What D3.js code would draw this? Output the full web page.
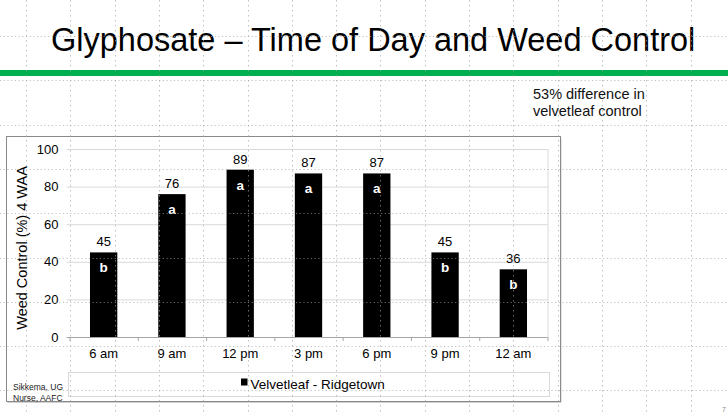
<!DOCTYPE html>
<html>
<head>
<meta charset="utf-8">
<script src="https://cdn.jsdelivr.net/npm/d3@7"></script>
<style>
  html, body { margin: 0; padding: 0; background: #fff; }
  svg { display: block; font-family: "Liberation Sans", Arial, sans-serif; }
</style>
</head>
<body>
<svg id="slide" width="728" height="414"></svg>
<script>
// chart values
const categories = ['6 am', '9 am', '12 pm', '3 pm', '6 pm', '9 pm', '12 am'];
const control = [45, 76, 89, 87, 87, 45, 36];
const letters = ['b', 'a', 'a', 'a', 'a', 'b', 'b'];
const yTicks = [0, 20, 40, 60, 80, 100];
const seriesName = 'Velvetleaf - Ridgetown';

const svg = d3.select('#slide');

const plot = { left: 69.5, right: 547.5, top: 149, bottom: 337 };

const x = d3.scaleBand().domain(categories).range([plot.left, plot.right]);
const y = d3.scaleLinear().domain([0, 100]).range([plot.bottom, plot.top]);

// title + green rule
svg.append('text')
    .attr('x', 51).attr('y', 50.5)
    .attr('font-size', 32.5)
    .text('Glyphosate \u2013 Time of Day and Weed Control');

svg.append('rect')
    .attr('x', 0).attr('y', 70).attr('width', 728).attr('height', 6)
    .attr('fill', '#00b050');

// note at top right
const note = svg.append('text').attr('font-size', 14.5).attr('fill', '#111');
note.append('tspan').attr('x', 533).attr('y', 98.5).text('53% difference in');
note.append('tspan').attr('x', 533).attr('y', 115.5).text('velvetleaf control');

// chart frame with a faint shadow
svg.append('rect')
    .attr('x', 7.5).attr('y', 138).attr('width', 554).attr('height', 265)
    .attr('fill', '#d0d0d0');
svg.append('rect')
    .attr('x', 6.5).attr('y', 136.5).attr('width', 554).attr('height', 265)
    .attr('fill', '#fff').attr('stroke', '#8a8a8a').attr('stroke-width', 1);

// gridlines
svg.append('g').selectAll('line')
    .data(yTicks)
    .join('line')
    .attr('x1', plot.left - 3).attr('x2', plot.right)
    .attr('y1', d => y(d) + 0.5).attr('y2', d => y(d) + 0.5)
    .attr('stroke', d => d === 0 ? '#a6a6a6' : '#d9d9d9');

svg.append('line')
    .attr('x1', plot.right + 0.5).attr('x2', plot.right + 0.5)
    .attr('y1', plot.top).attr('y2', plot.bottom)
    .attr('stroke', '#d9d9d9');

// category tick marks under the axis
svg.append('g').selectAll('line')
    .data(categories.concat(['end']))
    .join('line')
    .attr('x1', (d, i) => plot.left + i * x.step() + 0.5)
    .attr('x2', (d, i) => plot.left + i * x.step() + 0.5)
    .attr('y1', plot.bottom).attr('y2', plot.bottom + 4)
    .attr('stroke', '#a6a6a6');

// bars
const barW = x.bandwidth() * 0.4;
const bars = svg.append('g');
bars.selectAll('rect')
    .data(control)
    .join('rect')
    .attr('x', (d, i) => x(categories[i]) + (x.bandwidth() - barW) / 2)
    .attr('y', d => y(d))
    .attr('width', barW)
    .attr('height', d => y(0) - y(d))
    .attr('fill', '#000');

bars.selectAll('text.value')
    .data(control)
    .join('text')
    .attr('class', 'value')
    .attr('x', (d, i) => x(categories[i]) + x.bandwidth() / 2)
    .attr('y', d => y(d) - 6)
    .attr('text-anchor', 'middle')
    .attr('font-size', 13)
    .text(d => d);

bars.selectAll('text.letter')
    .data(letters)
    .join('text')
    .attr('class', 'letter')
    .attr('x', (d, i) => x(categories[i]) + x.bandwidth() / 2)
    .attr('y', (d, i) => y(control[i]) + 20)
    .attr('text-anchor', 'middle')
    .attr('font-size', 13.5)
    .attr('font-weight', 'bold')
    .attr('fill', '#fff')
    .text(d => d);

// axes labels
svg.append('g').selectAll('text')
    .data(yTicks)
    .join('text')
    .attr('x', 58.5)
    .attr('y', d => y(d) + 4.5)
    .attr('text-anchor', 'end')
    .attr('font-size', 13)
    .text(d => d);

svg.append('g').selectAll('text')
    .data(categories)
    .join('text')
    .attr('x', d => x(d) + x.bandwidth() / 2)
    .attr('y', 358)
    .attr('text-anchor', 'middle')
    .attr('font-size', 13)
    .text(d => d);

svg.append('text')
    .attr('transform', 'translate(26.5,248) rotate(-90)')
    .attr('text-anchor', 'middle')
    .attr('font-size', 14.5)
    .text('Weed Control (%) 4 WAA');

// legend
svg.append('rect')
    .attr('x', 68.5).attr('y', 372.5).attr('width', 481).attr('height', 24)
    .attr('fill', 'none').attr('stroke', '#d9d9d9');
svg.append('rect')
    .attr('x', 241).attr('y', 378.5).attr('width', 6.5).attr('height', 7)
    .attr('fill', '#000');
svg.append('text')
    .attr('x', 250.5).attr('y', 388.5)
    .attr('font-size', 13.5)
    .text(seriesName);

// source
const src = svg.append('text').attr('font-size', 8.5).attr('fill', '#222');
src.append('tspan').attr('x', 13).attr('y', 390).text('Sikkema, UG');
src.append('tspan').attr('x', 13).attr('y', 400.5).text('Nurse, AAFC');

// page number
svg.append('text')
    .attr('x', 722).attr('y', 412)
    .attr('font-size', 7).attr('fill', '#888')
    .text('7');

// slide guide grid, drawn on top like the screenshot
const step = 44.3;
const gx = d3.range(16).map(i => 26 + i * step);
const gy = d3.range(9).map(i => 36 + i * step);
const guides = svg.append('g').attr('stroke', '#a0a0a0').attr('stroke-opacity', 0.65);
guides.selectAll('line.v')
    .data(gx)
    .join('line')
    .attr('class', 'v')
    .attr('x1', d => Math.round(d) + 0.5).attr('x2', d => Math.round(d) + 0.5)
    .attr('y1', 0).attr('y2', 414)
    .attr('stroke-dasharray', '1.5,3.5');
guides.selectAll('line.h')
    .data(gy)
    .join('line')
    .attr('class', 'h')
    .attr('x1', 0).attr('x2', 728)
    .attr('y1', d => Math.round(d) + 0.5).attr('y2', d => Math.round(d) + 0.5)
    .attr('stroke-dasharray', '1.2,2.5');
</script>
</body>
</html>
